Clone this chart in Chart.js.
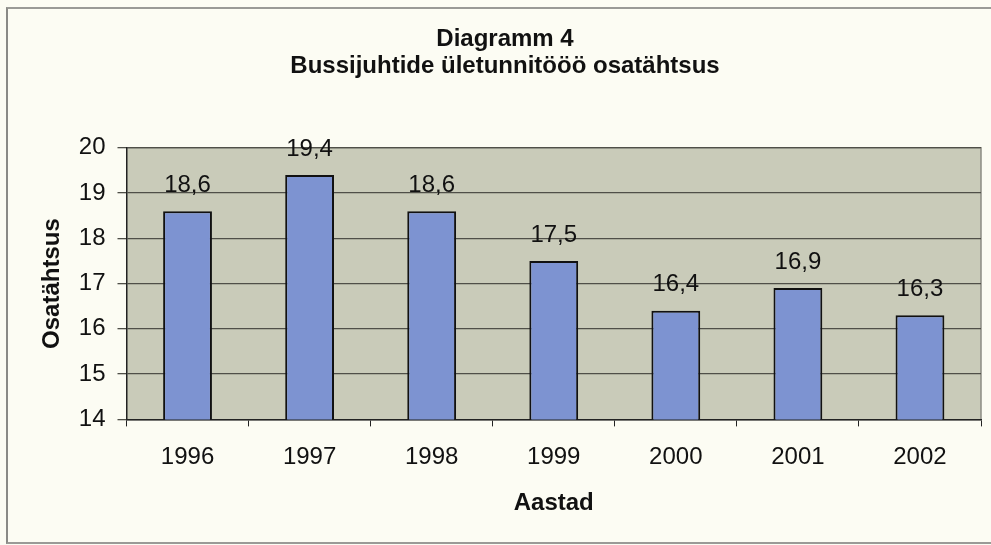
<!DOCTYPE html>
<html>
<head>
<meta charset="utf-8">
<script src="https://cdn.jsdelivr.net/npm/chart.js@4/dist/chart.umd.min.js"></script>
<style>
  html, body { margin: 0; padding: 0; background: #fcfcf3; }
  #wrap { position: relative; width: 991px; height: 545px; overflow: hidden; }
  #frame { position: absolute; left: 6px; top: 7px; width: 1000px; height: 533px;
           border-left: 2px solid #8a8a86; border-top: 2px solid #9a9a96; border-bottom: 2px solid #9a9a96; }
  canvas { position: absolute; left: 0; top: 0; }
</style>
</head>
<body>
<div id="wrap">
  <div id="frame"></div>
  <canvas id="c" width="991" height="545"></canvas>
</div>
<script>
// — andmed —
const years = ['1996', '1997', '1998', '1999', '2000', '2001', '2002'];
const shares = [18.6, 19.4, 18.6, 17.5, 16.4, 16.9, 16.3];
const titleLines = ['Diagramm 4', 'Bussijuhtide ületunnitööö osatähtsus'];
const yMin = 14, yMax = 20;

const FONT = '"Liberation Sans", Arial, sans-serif';

// — joonise tausta värv —
const plotBg = {
  id: 'plotBg',
  beforeDraw(chart) {
    const {ctx, chartArea: a} = chart;
    ctx.save();
    ctx.fillStyle = '#c9cbb9';
    ctx.fillRect(a.left, a.top, a.right - a.left, a.bottom - a.top);
    ctx.strokeStyle = '#8c8c84';
    ctx.lineWidth = 1.5;
    ctx.beginPath();
    ctx.moveTo(a.left, a.top);
    ctx.lineTo(a.right, a.top);
    ctx.lineTo(a.right, a.bottom);
    ctx.stroke();
    ctx.restore();
  }
};

// — väärtused tulpade kohal —
const barLabels = {
  id: 'barLabels',
  afterDatasetsDraw(chart) {
    const {ctx} = chart;
    const meta = chart.getDatasetMeta(0);
    ctx.save();
    ctx.font = '24px ' + FONT;
    ctx.fillStyle = '#111';
    ctx.textAlign = 'center';
    ctx.textBaseline = 'middle';
    meta.data.forEach((bar, i) => {
      ctx.fillText(String(shares[i]).replace('.', ','), bar.x, bar.y - 26);
    });
    ctx.restore();
  }
};

new Chart(document.getElementById('c'), {
  type: 'bar',
  data: {
    labels: years,
    datasets: [{
      data: shares,
      backgroundColor: '#7d93d1',
      borderColor: '#111',
      borderWidth: 2,
      borderSkipped: false,
      barPercentage: 0.4,
      categoryPercentage: 1.0
    }]
  },
  options: {
    responsive: false,
    animation: false,
    layout: { padding: { left: 29, right: 10, top: 0, bottom: 27 } },
    plugins: {
      legend: { display: false },
      tooltip: { enabled: false },
      title: {
        display: true,
        text: titleLines,
        color: '#111',
        font: { family: FONT, size: 24, weight: 'bold', lineHeight: 1.12 },
        padding: { top: 26, bottom: 68 }
      }
    },
    scales: {
      x: {
        grid: { drawOnChartArea: false, drawTicks: true, tickLength: 7, color: '#222', offset: true },
        border: { color: '#222', width: 1.5 },
        ticks: { color: '#111', font: { family: FONT, size: 24 }, padding: 17, maxRotation: 0 },
        title: {
          display: true, text: 'Aastad', color: '#111',
          font: { family: FONT, size: 24, weight: 'bold' },
          padding: { top: 0, bottom: 0 }
        }
      },
      y: {
        min: yMin,
        max: yMax,
        grid: { color: '#4f4f48', lineWidth: 1.3, tickLength: 9 },
        border: { color: '#222', width: 1.5 },
        ticks: { stepSize: 1, color: '#111', font: { family: FONT, size: 24 }, padding: 12 },
        title: {
          display: true, text: 'Osatähtsus', color: '#111',
          font: { family: FONT, size: 24, weight: 'bold' },
          padding: { top: 9, bottom: 0 }
        }
      }
    }
  },
  plugins: [plotBg, barLabels]
});
</script>
</body>
</html>
